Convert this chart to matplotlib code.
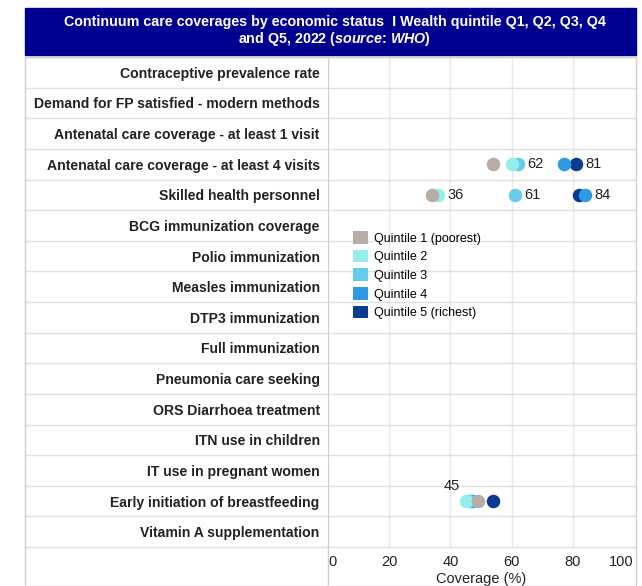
import matplotlib
matplotlib.use("Agg")
import matplotlib.pyplot as plt
from matplotlib.patches import Rectangle, Patch
from matplotlib.transforms import blended_transform_factory
import numpy as np

plt.rcParams["font.family"] = ["Liberation Sans", "DejaVu Sans"]
plt.rcParams["mathtext.fontset"] = "custom"
plt.rcParams["mathtext.it"] = "Liberation Sans:bold:italic"
plt.rcParams["mathtext.rm"] = "Liberation Sans:bold"

# ---- data ----
indicators = [
    "Contraceptive prevalence rate",
    "Demand for FP satisfied - modern methods",
    "Antenatal care coverage - at least 1 visit",
    "Antenatal care coverage - at least 4 visits",
    "Skilled health personnel",
    "BCG immunization coverage",
    "Polio immunization",
    "Measles immunization",
    "DTP3 immunization",
    "Full immunization",
    "Pneumonia care seeking",
    "ORS Diarrhoea treatment",
    "ITN use in children",
    "IT use in pregnant women",
    "Early initiation of breastfeeding",
    "Vitamin A supplementation",
]
quintiles = ["Quintile 1 (poorest)", "Quintile 2", "Quintile 3", "Quintile 4", "Quintile 5 (richest)"]
colors = ["#B8ADA6", "#96EEEC", "#66CCEE", "#2E9AE6", "#0A3D91"]

nan = np.nan
q1 = [nan, nan, nan, 54, 34, nan, nan, nan, nan, nan, nan, nan, nan, nan, 49, nan]
q2 = [nan, nan, nan, 60, 36, nan, nan, nan, nan, nan, nan, nan, nan, nan, 45, nan]
q3 = [nan, nan, nan, 62, 61, nan, nan, nan, nan, nan, nan, nan, nan, nan, 46, nan]
q4 = [nan, nan, nan, 77, 84, nan, nan, nan, nan, nan, nan, nan, nan, nan, 47, nan]
q5 = [nan, nan, nan, 81, 82, nan, nan, nan, nan, nan, nan, nan, nan, nan, 54, nan]
series = [q1, q2, q3, q4, q5]

# value labels: (row, value)
label_rows = [3, 3, 4, 4, 4]
label_vals = [62, 81, 36, 61, 84]
top_label_row = 14
top_label_val = 45

# ---- figure ----
W, H = 642, 586
fig = plt.figure(figsize=(W / 100, H / 100), dpi=100)

# title banner
fig.patches.append(Rectangle((25 / W, 1 - 55 / H), (636 - 25) / W, 47 / H,
                             transform=fig.transFigure, color="#000090", zorder=0))
fig.text(335 / W, 1 - 22 / H,
         "Continuum care coverages by economic status  I Wealth quintile Q1, Q2, Q3, Q4",
         ha="center", va="center", color="white", fontsize=10.3, fontweight="bold")
fig.text(334 / W, 1 - 39 / H, r"and Q5, 2022 ($\mathit{source}$: $\mathit{WHO}$)",
         ha="center", va="center", color="white", fontsize=10.3, fontweight="bold")

# outer frame
fig.patches.append(Rectangle((25 / W, 0), (636 - 25) / W, 1 - 57 / H,
                             transform=fig.transFigure, fill=False,
                             edgecolor="#D0D0D0", linewidth=1, zorder=0))

ax = fig.add_axes([328 / W, (H - 547) / H, (634 - 328) / W, (547 - 57) / H])
n = len(indicators)
y = np.arange(n)
ax.set_xlim(0, 100)
ax.set_ylim(n - 0.5, -0.5)

# richest first so poorer quintiles sit on top
for vals, col in reversed(list(zip(series, colors))):
    ax.scatter(vals, y, s=95, color=col, zorder=3, linewidths=0)

for r, v in zip(label_rows, label_vals):
    ax.annotate(str(v), (v, r), xytext=(7, 0), textcoords="offset points",
                ha="left", va="center", fontsize=10.5, color="#222222")
ax.annotate(str(top_label_val), (top_label_val, top_label_row), xytext=(-4, 11),
            textcoords="offset points", ha="right", va="center",
            fontsize=10.5, color="#222222")

# grid
ax.set_xticks(np.arange(0, 101, 20))
ax.grid(axis="x", color="#E8E8E8", linewidth=1)
ax.set_axisbelow(True)
trans = blended_transform_factory(fig.transFigure, ax.transData)
for b in np.arange(-0.5, n, 1.0):
    ax.plot([25 / W, 636 / W], [b, b], transform=trans, color="#E0E0E0",
            linewidth=1, clip_on=False, zorder=1)

for s in ["top", "right", "bottom"]:
    ax.spines[s].set_visible(False)
ax.spines["left"].set_color("#D0D0D0")
ax.spines["left"].set_bounds(n - 0.5, -0.5)

ax.set_yticks(y)
ax.set_yticklabels(indicators, fontsize=10.1, fontweight="bold", color="#222222")
ax.tick_params(axis="y", length=0, pad=6)
ax.tick_params(axis="x", length=0, pad=6, labelsize=10.5, labelcolor="#222222")
labels = ax.get_xticklabels()
labels[0].set_horizontalalignment("left")
labels[-1].set_horizontalalignment("right")
ax.set_xlabel("Coverage (%)", fontsize=10.5, color="#222222", labelpad=2)

# extend axis line below the plot
ax.plot([0, 0], [n - 0.5, n + 1.5], color="#D0D0D0", linewidth=1, clip_on=False)

handles = [Patch(facecolor=c, edgecolor="none") for c in colors]
ax.legend(handles, quintiles, loc="upper left", bbox_to_anchor=(0.065, 0.655),
          frameon=False, fontsize=9, handlelength=1.2, handleheight=1.2,
          handletextpad=0.5, labelspacing=0.4, borderaxespad=0)

fig.savefig("out.png", dpi=100)
